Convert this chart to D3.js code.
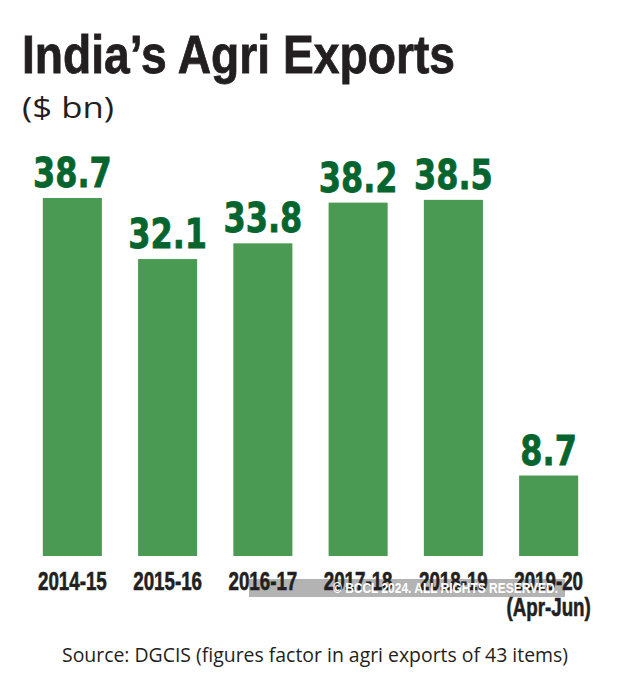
<!DOCTYPE html>
<html>
<head>
<meta charset="utf-8">
<script src="https://cdn.jsdelivr.net/npm/d3@7"></script>
<style>
  html, body { margin: 0; padding: 0; background: #fff; }
  svg { display: block; }
</style>
</head>
<body>
<div id="chart"></div>
<script>
const categories = ["2014-15", "2015-16", "2016-17", "2017-18", "2018-19", "2019-20"];
const subLabels = ["", "", "", "", "", "(Apr-Jun)"];
const values = [38.7, 32.1, 33.8, 38.2, 38.5, 8.7];
const valueLabels = ["38.7", "32.1", "33.8", "38.2", "38.5", "8.7"];

const W = 630, H = 678;
const svg = d3.select("#chart").append("svg").attr("width", W).attr("height", H);

const x = d3.scaleBand().domain(categories).range([19, 602]).paddingInner(0.38).paddingOuter(0.25);
const y = d3.scaleLinear().domain([0, 38.7]).range([556, 198]);

// Title
svg.append("text")
  .attr("x", 22).attr("y", 73)
  .attr("font-family", "Liberation Sans, Arial, sans-serif")
  .attr("font-weight", "bold").attr("font-size", 53)
  .attr("fill", "#231f20")
  .attr("stroke", "#231f20").attr("stroke-width", 0.8)
  .attr("textLength", 433).attr("lengthAdjust", "spacingAndGlyphs")
  .text("India\u2019s Agri Exports");

svg.append("text")
  .attr("x", 22).attr("y", 118)
  .attr("font-family", "Open Sans, sans-serif")
  .attr("font-size", 30)
  .attr("fill", "#231f20")
  .attr("textLength", 92).attr("lengthAdjust", "spacingAndGlyphs")
  .text("($ bn)");

// Bars
svg.append("g").selectAll("rect").data(values).join("rect")
  .attr("x", (d, i) => x(categories[i]))
  .attr("width", x.bandwidth())
  .attr("y", d => y(d))
  .attr("height", d => y(0) - y(d))
  .attr("fill", "#4b9a53");

// Value labels
svg.append("g").selectAll("text").data(values).join("text")
  .attr("transform", (d, i) => `translate(${x(categories[i]) + x.bandwidth() / 2},${y(d) - 11}) scale(0.78,1)`)
  .attr("text-anchor", "middle")
  .attr("font-family", "DejaVu Sans, sans-serif")
  .attr("font-weight", "bold").attr("font-size", 41)
  .attr("fill", "#06652e")
  .attr("stroke", "#06652e").attr("stroke-width", 0.8)
  .text((d, i) => valueLabels[i]);

// Watermark band
svg.append("rect")
  .attr("x", 249).attr("y", 579).attr("width", 316).attr("height", 18)
  .attr("fill", "#b3b3b3");

// X labels
const xl = svg.append("g").selectAll("g").data(categories).join("g")
  .attr("transform", d => `translate(${x(d) + x.bandwidth() / 2},0)`);
xl.append("text")
  .attr("transform", "translate(0,590) scale(0.75,1)")
  .attr("text-anchor", "middle")
  .attr("font-family", "Liberation Sans, Arial, sans-serif")
  .attr("font-weight", "bold").attr("font-size", 25)
  .attr("fill", "#231f20")
  .attr("stroke", "#231f20").attr("stroke-width", 0.6)
  .text(d => d);
xl.append("text")
  .attr("transform", "translate(0,616) scale(0.75,1)")
  .attr("text-anchor", "middle")
  .attr("font-family", "Liberation Sans, Arial, sans-serif")
  .attr("font-weight", "bold").attr("font-size", 25)
  .attr("fill", "#231f20")
  .attr("stroke", "#231f20").attr("stroke-width", 0.6)
  .text((d, i) => subLabels[i]);

// Watermark text
svg.append("text")
  .attr("x", 333).attr("y", 593)
  .attr("font-family", "Liberation Sans, Arial, sans-serif")
  .attr("font-weight", "bold").attr("font-size", 15)
  .attr("fill", "#ffffff")
  .attr("textLength", 225).attr("lengthAdjust", "spacingAndGlyphs")
  .text("\u00a9 BCCL 2024. ALL RIGHTS RESERVED.");

// Source
svg.append("text")
  .attr("x", 62).attr("y", 662)
  .attr("font-family", "Open Sans, sans-serif")
  .attr("font-size", 20)
  .attr("fill", "#231f20")
  .attr("textLength", 506).attr("lengthAdjust", "spacingAndGlyphs")
  .text("Source: DGCIS (figures factor in agri exports of 43 items)");
</script>
</body>
</html>
